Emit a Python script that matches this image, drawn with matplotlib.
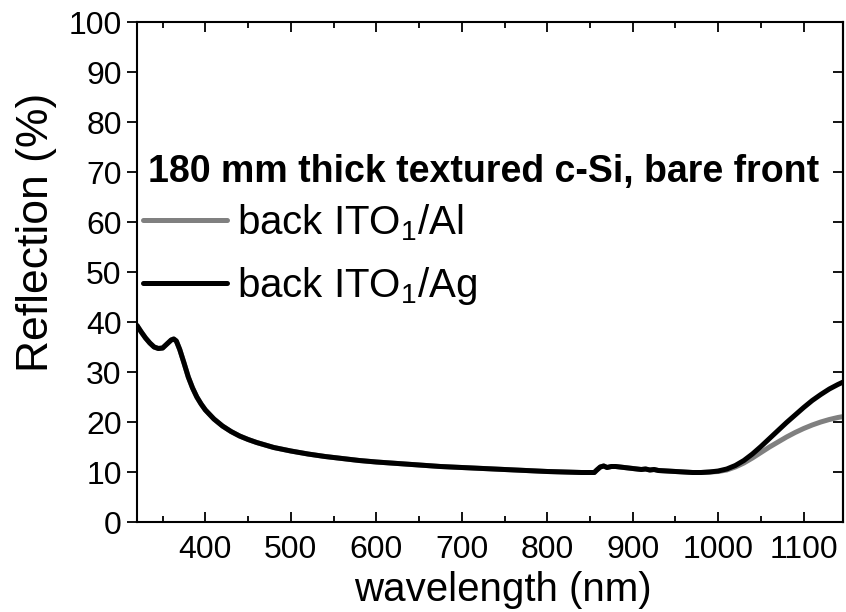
import matplotlib
matplotlib.use("Agg")
import matplotlib.pyplot as plt
from matplotlib.ticker import MultipleLocator

plt.rcParams['font.family'] = ['Liberation Sans', 'DejaVu Sans']
plt.rcParams['mathtext.fontset'] = 'custom'
plt.rcParams['mathtext.rm'] = 'Liberation Sans'
plt.rcParams['mathtext.it'] = 'Liberation Sans'
plt.rcParams['mathtext.bf'] = 'Liberation Sans:bold'

# wavelength (nm) and measured reflection (%)
wavelength = [320, 325, 330, 335, 340, 345, 350, 355, 360, 363, 366, 370, 375, 380, 385,
              390, 395, 400, 410, 420, 430, 440, 450, 460, 470, 480, 500, 520, 540, 560,
              580, 600, 625, 650, 675, 700, 725, 750, 775, 800, 820, 840, 855, 858, 862,
              866, 870, 875, 880, 885, 890, 900, 910, 915, 920, 925, 930, 940, 950, 960,
              970, 980, 990, 1000, 1010, 1020, 1030, 1040, 1050, 1060, 1070, 1080, 1090,
              1100, 1110, 1120, 1130, 1140, 1150]

refl_ag = [39.3, 38.0, 36.8, 35.8, 35.0, 34.7, 34.8, 35.6, 36.4, 36.6, 36.2, 34.5, 31.8, 29.0, 26.8,
           25.0, 23.6, 22.4, 20.6, 19.2, 18.1, 17.2, 16.5, 15.9, 15.4, 14.9, 14.2, 13.6, 13.1, 12.7,
           12.3, 12.0, 11.7, 11.4, 11.1, 10.9, 10.7, 10.5, 10.3, 10.1, 10.0, 9.9, 9.9, 10.4, 11.0,
           11.2, 10.9, 11.1, 11.1, 11.0, 10.9, 10.7, 10.5, 10.6, 10.4, 10.5, 10.3, 10.2, 10.1, 10.0,
           9.9, 9.9, 10.0, 10.2, 10.6, 11.3, 12.3, 13.6, 15.1, 16.7, 18.3, 19.9, 21.4,
           22.9, 24.3, 25.5, 26.6, 27.5, 28.3]

refl_al = [39.3, 38.0, 36.8, 35.8, 35.0, 34.7, 34.8, 35.6, 36.4, 36.6, 36.2, 34.5, 31.8, 29.0, 26.8,
           25.0, 23.6, 22.4, 20.6, 19.2, 18.1, 17.2, 16.5, 15.9, 15.4, 14.9, 14.2, 13.6, 13.1, 12.7,
           12.3, 12.0, 11.7, 11.4, 11.1, 10.9, 10.7, 10.5, 10.3, 10.1, 10.0, 9.9, 9.9, 10.4, 11.0,
           11.2, 10.9, 11.1, 11.1, 11.0, 10.9, 10.7, 10.5, 10.6, 10.4, 10.5, 10.3, 10.2, 10.1, 10.0,
           9.9, 9.9, 10.0, 10.1, 10.4, 11.0, 11.8, 12.8, 13.9, 15.0, 16.0, 17.0, 17.9,
           18.7, 19.4, 20.0, 20.5, 20.9, 21.2]

labels = ["back ITO$_1$/Al", "back ITO$_1$/Ag"]
legend_title = "180 mm thick textured c-Si, bare front"

fig = plt.figure(figsize=(8.46, 6.12), dpi=100)
ax = fig.add_axes([137 / 846, 90 / 612, (843 - 137) / 846, (522 - 22) / 612])

ax.plot(wavelength, refl_al, color="#808080", lw=3.6, label=labels[0], solid_capstyle="round")
ax.plot(wavelength, refl_ag, color="black", lw=3.6, label=labels[1], solid_capstyle="round")

ax.set_xlim(320, 1146)
ax.set_ylim(0, 100)
ax.xaxis.set_major_locator(MultipleLocator(100))
ax.xaxis.set_minor_locator(MultipleLocator(50))
ax.yaxis.set_major_locator(MultipleLocator(10))

for sp in ax.spines.values():
    sp.set_linewidth(1.5)

ax.tick_params(axis="x", which="both", direction="in", top=True, bottom=True,
               labelsize=23, pad=9, width=1.3)
ax.tick_params(axis="x", which="major", length=7)
ax.tick_params(axis="x", which="minor", length=4)
ax.tick_params(axis="y", direction="out", left=True, right=False,
               labelsize=23, pad=4, width=1.3, length=7)

# right axis: inward ticks, no labels
sec = ax.secondary_yaxis("right")
sec.yaxis.set_major_locator(MultipleLocator(10))
sec.tick_params(direction="in", length=7, width=1.3, labelright=False)
sec.spines["right"].set_linewidth(1.5)

ax.set_xlabel("wavelength (nm)", fontsize=29)
ax.xaxis.set_label_coords(0.518, -0.098)
ax.set_ylabel("Reflection (%)", fontsize=32)
ax.yaxis.set_label_coords(-0.113, 0.58)

# bold legend heading, then the two entries
ax.text(0.0156, 0.70, legend_title, transform=ax.transAxes, fontsize=27,
        fontweight="bold", ha="left", va="center")
leg = ax.legend(loc="center left", bbox_to_anchor=(0.008, 0.535),
                frameon=False, fontsize=29, handlelength=2.1, handletextpad=0.25,
                labelspacing=0.55, borderpad=0, borderaxespad=0)

fig.savefig("out.png", dpi=100)
plt.close(fig)
